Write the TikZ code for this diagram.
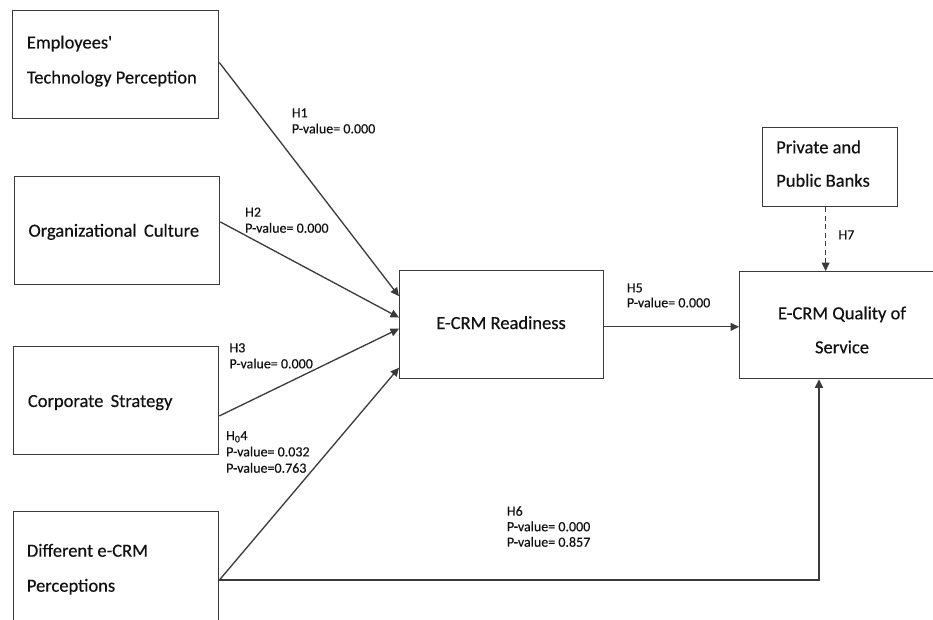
\documentclass[tikz,border=0pt]{standalone}
\usepackage{fontspec}
\setmainfont{Carlito}[FakeBold=0.35]
\usetikzlibrary{arrows.meta,calc}

\definecolor{edge}{HTML}{3A3A3A}
\definecolor{ink}{HTML}{111111}

\tikzset{
  box/.style={draw=edge, line width=1.3pt, fill=white, inner sep=0pt,
    anchor=north west},
  boxtext/.style={inner sep=0pt, text=ink, align=left,
    font=\fontsize{18.5}{35}\selectfont},
  lbl/.style={inner sep=0pt, text=ink, align=left, anchor=base west,
    font=\fontsize{14}{16}\selectfont},
  arr/.style={draw=edge, line width=1.3pt,
    -{Triangle[length=8.5pt,width=8pt]}},
}

\begin{document}
\begin{tikzpicture}[x=1pt,y=-1pt]
  \clip (0,0) rectangle (933,620);
  \fill[white] (0,0) rectangle (933,620);

  % source constructs on the left
  \node[box, minimum width=206, minimum height=108] (b1) at (12,10) {};
  \node[box, minimum width=205, minimum height=108] (b2) at (14,176) {};
  \node[box, minimum width=205, minimum height=108] (b3) at (13,346) {};
  \node[box, minimum width=205, minimum height=120] (b4) at (13,511) {};

  % readiness, quality of service, moderator
  \node[box, minimum width=204, minimum height=108] (r) at (399,270) {};
  \node[box, minimum width=210, minimum height=107] (q) at (739,271) {};
  \node[box, minimum width=135, minimum height=79] (p) at (762,127) {};

  % box captions (base anchor = baseline of the last line)
  \node[boxtext, anchor=base west] (t1) at (26.7,83.5)
    {Employees\textquotesingle\\Technology Perception};
  \node[boxtext, anchor=base west] (t2) at (28.3,236.7)
    {Organizational\, Culture};
  \node[boxtext, anchor=base west] (t3) at (27.7,407)
    {Corporate\, Strategy};
  \node[boxtext, anchor=base west] (t4) at (26.7,591.7)
    {Different e-CRM\\Perceptions};
  \node[boxtext, anchor=base] (tr) at (501,329) {E-CRM Readiness};
  \node[boxtext, anchor=base, align=center,
    font=\fontsize{18.5}{34}\selectfont] (tq) at (842,353.3)
    {E-CRM Quality of\\Service};
  \node[boxtext, anchor=base west, font=\fontsize{18.5}{33.4}\selectfont]
    (tp) at (776,186.7) {Private and\\Public Banks};

  % connector end points on the box edges
  \coordinate (h1s) at ($(b1.north east)!0.48!(b1.south east)$);
  \coordinate (h2s) at ($(b2.north east)!0.42!(b2.south east)$);
  \coordinate (h3s) at ($(b3.north east)!0.64!(b3.south east)$);
  \coordinate (h4s) at ($(b4.north east)!0.57!(b4.south east)$);
  \coordinate (h1e) at ($(r.north west)!0.24!(r.south west)$);
  \coordinate (h2e) at ($(r.north west)!0.435!(r.south west)$);
  \coordinate (h3e) at ($(r.north west)!0.537!(r.south west)$);
  \coordinate (h4e) at ($(r.north west)!0.894!(r.south west)$);
  \coordinate (h5s) at ($(r.north east)!0.52!(r.south east)$);
  \coordinate (h6e) at ($(q.south west)+(80,0)$);
  \coordinate (h7s) at ($(p.south)+(-4.5,0)$);

  % hypothesised paths
  \draw[arr] (h1s) -- (h1e);
  \draw[arr] (h2s) -- (h2e);
  \draw[arr] (h3s) -- (h3e);
  \draw[arr] (h4s) -- (h4e);
  \draw[arr] (h5s) -- (h5s -| q.west);
  \draw[arr] (h4s) -| (h6e);
  \draw[arr, dash pattern=on 5pt off 3.5pt] (h7s) -- (h7s |- q.north);

  % path labels (base anchor = baseline of the last line)
  \node[lbl] (l1) at (291.7,133.3) {H1\\P-value= 0.000};
  \node[lbl] (l2) at (245,232.7) {H2\\P-value= 0.000};
  \node[lbl] (l3) at (229.3,368.3) {H3\\P-value= 0.000};
  \node[lbl, font=\fontsize{14}{16.3}\selectfont] (l4) at (226,472.7)
    {H\textsubscript{0}4\\P-value= 0.032\\P-value=0.763};
  \node[lbl, font=\fontsize{14}{15}\selectfont] (l5) at (626.7,307.3)
    {H5\\P-value= 0.000};
  \node[lbl, font=\fontsize{14}{15.5}\selectfont] (l6) at (506.7,546.7)
    {H6\\P-value= 0.000\\P-value= 0.857};
  \node[lbl] (l7) at (838.3,239.3) {H7};
\end{tikzpicture}
\end{document}
